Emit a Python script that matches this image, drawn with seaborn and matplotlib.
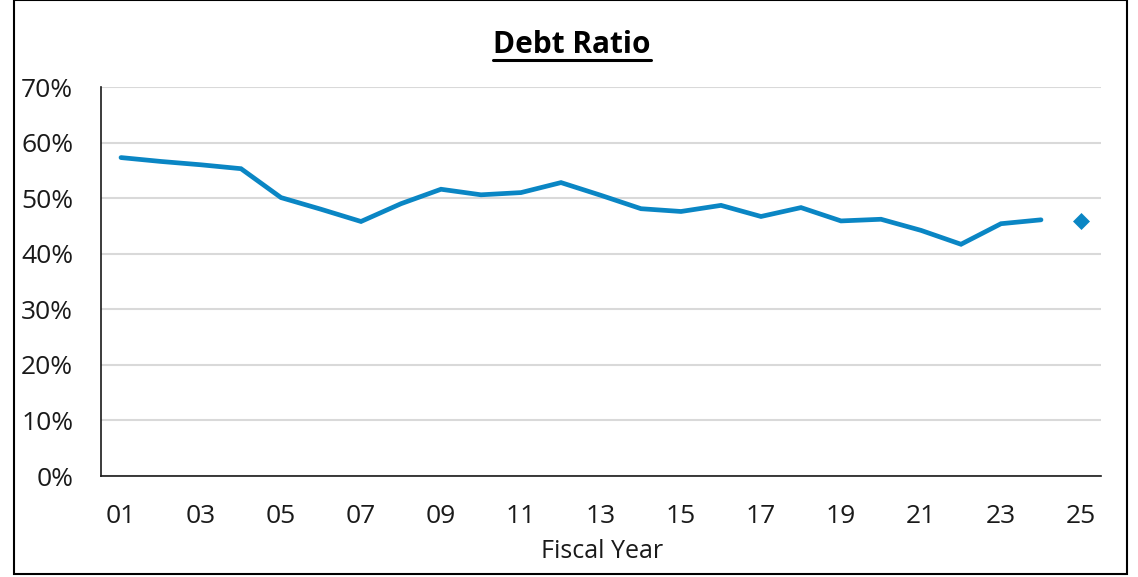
import matplotlib
matplotlib.use("Agg")
import matplotlib.pyplot as plt
import seaborn as sns
import pandas as pd
import numpy as np
from matplotlib.lines import Line2D
from matplotlib.patches import Rectangle
from matplotlib.ticker import FuncFormatter

years = ["01", "02", "03", "04", "05", "06", "07", "08", "09", "10", "11", "12", "13",
         "14", "15", "16", "17", "18", "19", "20", "21", "22", "23", "24", "25"]
debt_ratio = [57.3, 56.6, 56.0, 55.3, 50.1, 48.0, 45.8, 49.0, 51.6, 50.6, 51.0, 52.8, 50.5,
              48.1, 47.6, 48.7, 46.7, 48.3, 45.9, 46.2, 44.2, 41.7, 45.4, 46.1, None]
forecast = [None] * 24 + [45.8]
tick_labels = ["01", "03", "05", "07", "09", "11", "13", "15", "17", "19", "21", "23", "25"]

sns.set_theme(style="white")
plt.rcParams["font.family"] = ["Open Sans", "DejaVu Sans"]

W, H = 1138, 577
df = pd.DataFrame({"year": years,
                   "ratio": [np.nan if v is None else v for v in debt_ratio],
                   "forecast": [np.nan if v is None else v for v in forecast]})
df["pos"] = np.arange(len(years))

fig = plt.figure(figsize=(W / 100, H / 100), dpi=100)
ax = fig.add_axes([101 / W, 101 / H, 1000 / W, 389 / H])

color = "#0A86C4"
sns.lineplot(data=df, x="pos", y="ratio", ax=ax, color=color, linewidth=3.4,
             solid_capstyle="round", solid_joinstyle="miter")
sns.scatterplot(data=df, x="pos", y="forecast", ax=ax, color=color, marker="D",
                s=75, edgecolor=color, linewidth=0)

ax.set_xlim(-0.5, len(years) - 0.5)
ax.set_ylim(0, 70)
ax.set_yticks(np.arange(0, 71, 10))
ax.yaxis.set_major_formatter(FuncFormatter(lambda v, p: f"{int(v)}%"))
ax.set_xticks([years.index(t) for t in tick_labels])
ax.set_xticklabels(tick_labels)
ax.tick_params(axis="both", length=0, labelsize=19, colors="#1a1a1a")
ax.tick_params(axis="y", pad=20)
ax.tick_params(axis="x", pad=20)
ax.grid(axis="y", color="#d9d9d9", linewidth=1.5)
ax.grid(axis="x", visible=False)
ax.set_axisbelow(True)
for s in ["top", "right"]:
    ax.spines[s].set_visible(False)
for s in ["left", "bottom"]:
    ax.spines[s].set_color("#1a1a1a")
    ax.spines[s].set_linewidth(1.2)
ax.set_xlabel("")
ax.set_ylabel("")
fig.text(602 / W, 1 - 551 / H, "Fiscal Year", ha="center", va="center",
         fontsize=18, color="#1a1a1a")

title = fig.text(572 / W, 1 - 45 / H, "Debt Ratio", ha="center", va="center",
                 fontsize=21.5, fontweight="bold", color="black")
fig.canvas.draw()
bb = title.get_window_extent(fig.canvas.get_renderer())
fig.add_artist(Line2D([bb.x0 / W, bb.x1 / W], [1 - 59.5 / H, 1 - 59.5 / H],
                      transform=fig.transFigure, color="black", linewidth=2.2))

fig.add_artist(Rectangle((14 / W, 3 / H), 1113 / W, (H - 3) / H, transform=fig.transFigure,
                         fill=False, edgecolor="black", linewidth=1.5))

fig.savefig("out.png", dpi=100)
